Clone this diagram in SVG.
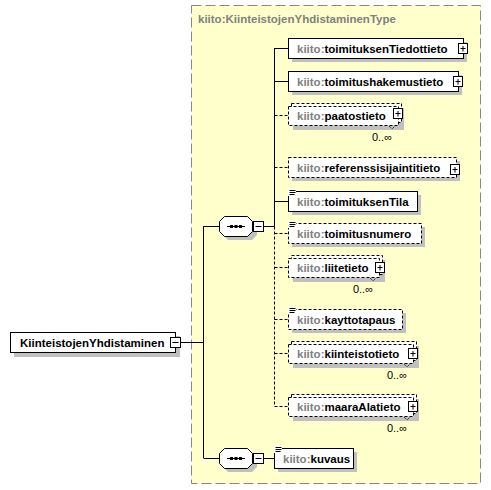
<svg xmlns="http://www.w3.org/2000/svg" width="491" height="490" viewBox="0 0 491 490">
<defs>
<style>
text{font-family:"Liberation Sans",Arial,sans-serif;font-size:11.5px;font-weight:bold;fill:#000}
.pre{fill:#808080}
.title{fill:#808080}
.occ{font-weight:normal;font-size:11px}
.box{fill:#fff;stroke:#000;stroke-width:1}
.dbox{fill:#fff;stroke:#000;stroke-width:1;stroke-dasharray:3,2}
.sh{fill:#c0c0c0}
.ln{stroke:#000;stroke-width:1;fill:none}
.dln{stroke:#000;stroke-width:1;fill:none;stroke-dasharray:3,2}
.ic{stroke:#000;stroke-width:1}
</style>
<g id="plus"><rect x="0.5" y="0.5" width="9" height="10" class="box"/><path d="M2.5 5.5H7.5M5 3V8.5" class="ic"/></g>
<g id="minus"><rect x="0.5" y="0.5" width="10" height="10" class="box"/><path d="M2.5 5.5H8.5" class="ic"/></g>
<g id="simple"><rect x="0" y="0" width="8" height="7" fill="#fff"/><path d="M1.5 1.5H7.5M1.5 3.5H7.5M1.5 5.5H6.5" class="ic"/></g>
<g id="seq"><polygon points="5,0 29,0 34,5 34,15 29,20 5,20 0,15 0,5" class="sh" transform="translate(4,4)"/><polygon points="5.5,0.5 28.5,0.5 33.5,5.5 33.5,15.5 28.5,20.5 5.5,20.5 0.5,15.5 0.5,5.5" class="box"/><path d="M8 10.5H26" class="ln"/><rect x="11" y="9" width="3" height="3"/><rect x="15.5" y="9" width="3" height="3"/><rect x="20" y="9" width="3" height="3"/></g>
</defs>

<rect x="191.5" y="5.5" width="289" height="478" fill="#ffffcc" stroke="#888" stroke-dasharray="10,4"/>
<text x="198" y="23" class="title">kiito:KiinteistojenYhdistaminenType</text>

<g id="connectors">
<path d="M180 342.5H203.5M203.5 226V458M203.5 226.5H219M203.5 458.5H219M263 226.5H274.5M263 458.5H274" class="ln"/>
<path d="M274.5 48V226.5" class="ln"/>
<path d="M274.5 226.5V406.5" class="dln"/>
<path d="M274.5 48.5H288M274.5 81.5H288M274.5 201.5H288" class="ln"/>
<path d="M274.5 115.5H288M274.5 167.5H288M274.5 233.5H288M274.5 267.5H288M274.5 319.5H288M274.5 353.5H288M274.5 406.5H288" class="dln"/>
</g>

<g id="root">
<rect x="14" y="336" width="166" height="21" class="sh"/>
<rect x="10.5" y="332.5" width="165" height="20" class="box"/>
<text x="20" y="346.5">KiinteistojenYhdistaminen</text>
<use href="#minus" x="170" y="337"/>
</g>

<g id="sequence1"><use href="#seq" x="219" y="216"/><use href="#minus" x="253" y="221"/></g>
<g id="sequence2"><use href="#seq" x="219" y="448"/><use href="#minus" x="253" y="453"/></g>

<g id="toimituksenTiedottieto">
<rect x="292" y="42" width="175" height="20" class="sh"/>
<rect x="288.5" y="38.5" width="175" height="20" class="box"/>
<text x="297" y="52.5"><tspan class="pre">kiito:</tspan>toimituksenTiedottieto</text>
<use href="#plus" x="458" y="43"/>
</g>

<g id="toimitushakemustieto">
<rect x="292" y="75" width="170" height="20" class="sh"/>
<rect x="288.5" y="71.5" width="170" height="20" class="box"/>
<text x="297" y="85.5"><tspan class="pre">kiito:</tspan>toimitushakemustieto</text>
<use href="#plus" x="453" y="76"/>
</g>

<g id="paatostieto">
<rect x="293" y="108" width="111" height="22" class="sh"/>
<rect x="291.5" y="103.5" width="110" height="19" class="dbox"/>
<rect x="288.5" y="106.5" width="110" height="19" class="dbox"/>
<path d="M389 126L392 129L395 126" class="ln" stroke-dasharray="1,1"/>
<text x="297" y="119.5"><tspan class="pre">kiito:</tspan>paatostieto</text>
<use href="#plus" x="393" y="108"/>
<text x="392" y="141" class="occ" text-anchor="end">0..∞</text>
</g>

<g id="referenssisijaintitieto">
<rect x="292" y="161" width="168" height="20" class="sh"/>
<rect x="288.5" y="157.5" width="168" height="20" class="dbox"/>
<text x="297" y="171.5"><tspan class="pre">kiito:</tspan>referenssisijaintitieto</text>
<use href="#plus" x="450" y="164"/>
</g>

<g id="toimituksenTila">
<rect x="292" y="195" width="129" height="20" class="sh"/>
<rect x="288.5" y="191.5" width="129" height="20" class="box"/>
<use href="#simple" x="288" y="189"/>
<text x="297" y="205.5"><tspan class="pre">kiito:</tspan>toimituksenTila</text>
</g>

<g id="toimitusnumero">
<rect x="292" y="227" width="133" height="20" class="sh"/>
<rect x="288.5" y="223.5" width="133" height="20" class="dbox"/>
<use href="#simple" x="288" y="221"/>
<text x="297" y="237.5"><tspan class="pre">kiito:</tspan>toimitusnumero</text>
</g>

<g id="liitetieto">
<rect x="293" y="260" width="92" height="22" class="sh"/>
<rect x="291.5" y="255.5" width="91" height="19" class="dbox"/>
<rect x="288.5" y="258.5" width="91" height="19" class="dbox"/>
<path d="M370 278L373 281L376 278" class="ln" stroke-dasharray="1,1"/>
<text x="297" y="271.5"><tspan class="pre">kiito:</tspan>liitetieto</text>
<use href="#plus" x="375" y="262"/>
<text x="373" y="293" class="occ" text-anchor="end">0..∞</text>
</g>

<g id="kayttotapaus">
<rect x="292" y="313" width="114" height="20" class="sh"/>
<rect x="288.5" y="309.5" width="114" height="20" class="dbox"/>
<use href="#simple" x="288" y="307"/>
<text x="297" y="323.5"><tspan class="pre">kiito:</tspan>kayttotapaus</text>
</g>

<g id="kiinteistotieto">
<rect x="293" y="346" width="126" height="22" class="sh"/>
<rect x="291.5" y="341.5" width="125" height="19" class="dbox"/>
<rect x="288.5" y="344.5" width="125" height="19" class="dbox"/>
<path d="M404 364L407 367L410 364" class="ln" stroke-dasharray="1,1"/>
<text x="297" y="357.5"><tspan class="pre">kiito:</tspan>kiinteistotieto</text>
<use href="#plus" x="408" y="348"/>
<text x="407" y="379" class="occ" text-anchor="end">0..∞</text>
</g>

<g id="maaraAlatieto">
<rect x="293" y="399" width="126" height="22" class="sh"/>
<rect x="291.5" y="394.5" width="125" height="19" class="dbox"/>
<rect x="288.5" y="397.5" width="125" height="19" class="dbox"/>
<path d="M404 417L407 420L410 417" class="ln" stroke-dasharray="1,1"/>
<text x="297" y="410.5"><tspan class="pre">kiito:</tspan>maaraAlatieto</text>
<use href="#plus" x="408" y="401"/>
<text x="407" y="432" class="occ" text-anchor="end">0..∞</text>
</g>

<g id="kuvaus">
<rect x="278" y="452" width="79" height="20" class="sh"/>
<rect x="274.5" y="448.5" width="79" height="20" class="box"/>
<use href="#simple" x="274" y="446"/>
<text x="283" y="462.5"><tspan class="pre">kiito:</tspan>kuvaus</text>
</g>
</svg>
